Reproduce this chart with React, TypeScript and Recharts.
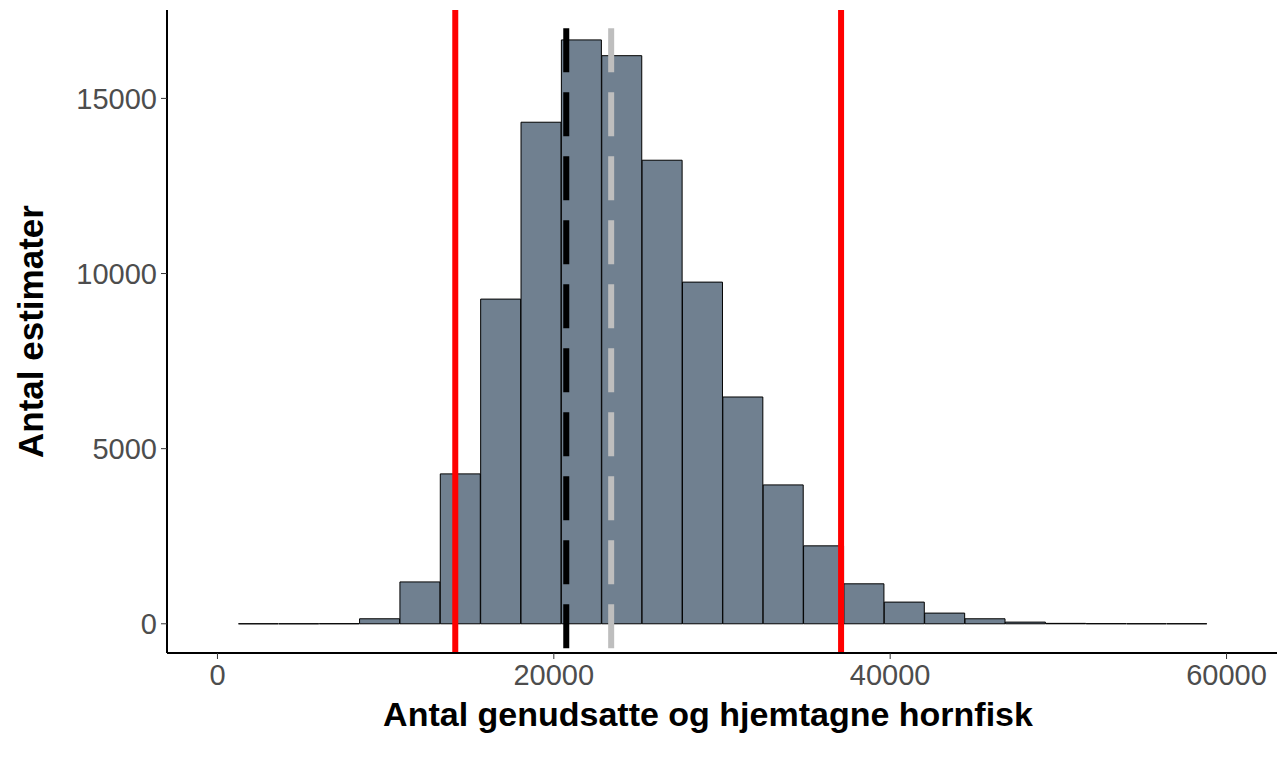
import { ComposedChart, Bar, XAxis, YAxis, ReferenceLine } from "recharts";

const FONT = "'Liberation Sans', Arial, Helvetica, sans-serif";
const FILL = "#708090";
const TICK_FILL = "#4D4D4D";

// histogram bin centres (bin width ~2400)
const binMids = [
  2450, 4850, 7250, 9650, 12050, 14450, 16850, 19250, 21650, 24050, 26450, 28850,
  31250, 33650, 36050, 38450, 40850, 43250, 45650, 48050, 50450, 52850, 55250, 57650,
];
const binCounts = [
  0, 0, 3, 143, 1195, 4280, 9270, 14320, 16670, 16220, 13235, 9755,
  6475, 3965, 2225, 1141, 619, 305, 143, 48, 12, 4, 1, 1,
];

const xTicks = [0, 20000, 40000, 60000];
const yTicks = [0, 5000, 10000, 15000];

// reference lines
const intervalLines = [14140, 37080];
const medianLine = 20740;
const meanLine = 23410;
const dashedTop = 17000;

const X_DOMAIN: [number, number] = [-3000, 63000];
const Y_DOMAIN: [number, number] = [-834, 17524];

const data = binMids.map((mid, i) => ({ mid, count: binCounts[i] }));

const HistBar = (props: any) => {
  const { x, y, width, height } = props;
  return (
    <path
      d={`M${x},${y + height}V${y}H${x + width}V${y + height}Z`}
      fill={FILL}
      stroke="#000"
      strokeWidth={1}
    />
  );
};

const XLabel = (props: any) => {
  const vb = props.viewBox;
  return (
    <text
      x={708}
      y={vb.y + 61}
      textAnchor="middle"
      dominantBaseline="central"
      fontFamily={FONT}
      fontWeight="bold"
      fontSize={34}
      fill="#000"
    >
      Antal genudsatte og hjemtagne hornfisk
    </text>
  );
};

const YLabel = (props: any) => {
  const vb = props.viewBox;
  const cx = 30;
  const cy = vb.y + vb.height / 2;
  return (
    <text
      x={cx}
      y={cy}
      transform={`rotate(-90 ${cx} ${cy})`}
      textAnchor="middle"
      dominantBaseline="central"
      fontFamily={FONT}
      fontWeight="bold"
      fontSize={35}
      fill="#000"
    >
      Antal estimater
    </text>
  );
};

export default function App() {
  return (
    <div style={{ position: "absolute", left: 0, top: 0, background: "#fff" }}>
      <ComposedChart
        width={1277}
        height={760}
        data={data}
        margin={{ top: 10, right: 0, bottom: 0, left: 0 }}
        barCategoryGap={0}
        barGap={0}
      >
        <XAxis
          type="number"
          dataKey="mid"
          domain={X_DOMAIN}
          ticks={xTicks}
          allowDataOverflow
          height={107}
          axisLine={{ stroke: "#000", strokeWidth: 2 }}
          tickLine={{ stroke: "#333" }}
          tickSize={6}
          tickMargin={5}
          tick={{ fontSize: 29, fontFamily: FONT, fill: TICK_FILL }}
          label={{ content: XLabel }}
        />
        <YAxis
          type="number"
          domain={Y_DOMAIN}
          ticks={yTicks}
          allowDataOverflow
          width={167}
          axisLine={{ stroke: "#000", strokeWidth: 2 }}
          tickLine={{ stroke: "#333" }}
          tickSize={6}
          tickMargin={4}
          tick={{ fontSize: 29, fontFamily: FONT, fill: TICK_FILL }}
          label={{ content: YLabel }}
        />
        <Bar
          dataKey="count"
          shape={HistBar}
          isAnimationActive={false}
        />
        {intervalLines.map((v) => (
          <ReferenceLine key={v} x={v} stroke="#FF0000" strokeWidth={6} ifOverflow="visible" />
        ))}
        <ReferenceLine
          segment={[
            { x: medianLine, y: dashedTop },
            { x: medianLine, y: Y_DOMAIN[0] },
          ]}
          stroke="#000"
          strokeWidth={6}
          strokeDasharray="44 20"
          ifOverflow="visible"
        />
        <ReferenceLine
          segment={[
            { x: meanLine, y: dashedTop },
            { x: meanLine, y: Y_DOMAIN[0] },
          ]}
          stroke="#BEBEBE"
          strokeWidth={6}
          strokeDasharray="44 20"
          ifOverflow="visible"
        />
      </ComposedChart>
    </div>
  );
}
